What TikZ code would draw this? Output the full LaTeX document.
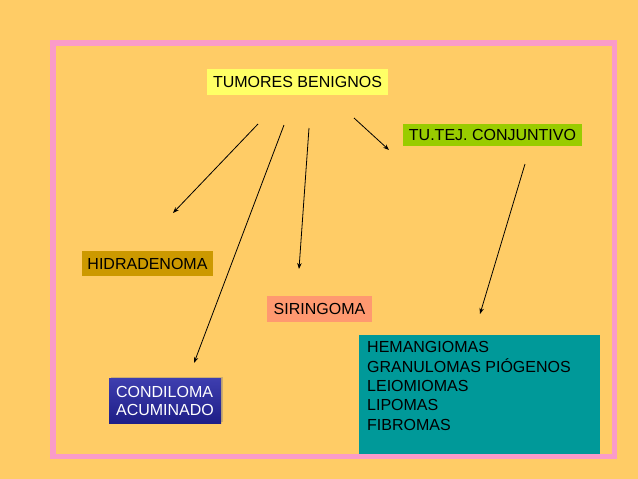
\documentclass[tikz,border=0pt]{standalone}
\usepackage{fontspec}
\setmainfont{Liberation Sans}
\usetikzlibrary{arrows.meta,shadows}
\definecolor{bgcol}{RGB}{255,204,102}
\definecolor{pinkcol}{RGB}{250,155,200}
\definecolor{yelcol}{RGB}{255,255,102}
\definecolor{grncol}{RGB}{153,204,0}
\definecolor{goldcol}{RGB}{204,153,0}
\definecolor{salcol}{RGB}{255,153,112}
\definecolor{tealcol}{RGB}{0,153,153}
\definecolor{bluetop}{RGB}{62,62,175}
\definecolor{bluebot}{RGB}{30,30,135}
\tikzset{
  lbl/.style={inner sep=0pt, font=\fontsize{16}{19}\selectfont, text=black},
  conn/.style={line width=0.8pt, -{Stealth[length=6pt,width=4.5pt]}},
}
\begin{document}
\begin{tikzpicture}[x=1pt,y=-1pt]
\useasboundingbox (0,0) rectangle (638,479);
\fill[bgcol] (0,0) rectangle (638,479);
% teal box
\node[fill=tealcol, minimum width=241pt, minimum height=119pt, inner sep=0pt] (teal) at (479.5,394.5) {};
\node[lbl, anchor=north west, align=left, font=\fontsize{16}{19.3}\selectfont] (tealtxt) at (367,341.5)
 {HEMANGIOMAS\\GRANULOMAS PIÓGENOS\\LEIOMIOMAS\\LIPOMAS\\FIBROMAS};
% border
\draw[pinkcol, line width=5.5pt] (53,43) rectangle (614.5,456.5);
% boxes
\node[lbl, fill=yelcol, minimum width=181pt, minimum height=26pt] (tum) at (297.5,82) {TUMORES BENIGNOS};
\node[lbl, fill=grncol, minimum width=179pt, minimum height=22pt] (tej) at (492.5,135) {TU.TEJ. CONJUNTIVO};
\node[lbl, fill=goldcol, minimum width=131pt, minimum height=25pt] (hid) at (147.5,263.5) {HIDRADENOMA};
\node[lbl, fill=salcol, minimum width=105pt, minimum height=26pt] (sir) at (319.5,309) {SIRINGOMA};
\node[lbl, text=white, align=left, top color=bluetop, bottom color=bluebot,
      drop shadow={shadow xshift=1.5pt, shadow yshift=1.5pt, opacity=0.4},
      minimum width=112pt, minimum height=45pt, font=\fontsize{16}{18}\selectfont] (con) at (165,400.5)
 {CONDILOMA\\ACUMINADO};
% arrow coordinates
\coordinate (a1s) at (258,124); \coordinate (a1e) at (173,213);
\coordinate (a2s) at (284,125); \coordinate (a2e) at (194,363);
\coordinate (a3s) at (309,128); \coordinate (a3e) at (299,269);
\coordinate (a4s) at (354,118); \coordinate (a4e) at (389,150);
\coordinate (a5s) at (525,164); \coordinate (a5e) at (480,314);
\draw[conn] (a1s) -- (a1e);
\draw[conn] (a2s) -- (a2e);
\draw[conn] (a3s) -- (a3e);
\draw[conn] (a4s) -- (a4e);
\draw[conn] (a5s) -- (a5e);
\end{tikzpicture}
\end{document}
